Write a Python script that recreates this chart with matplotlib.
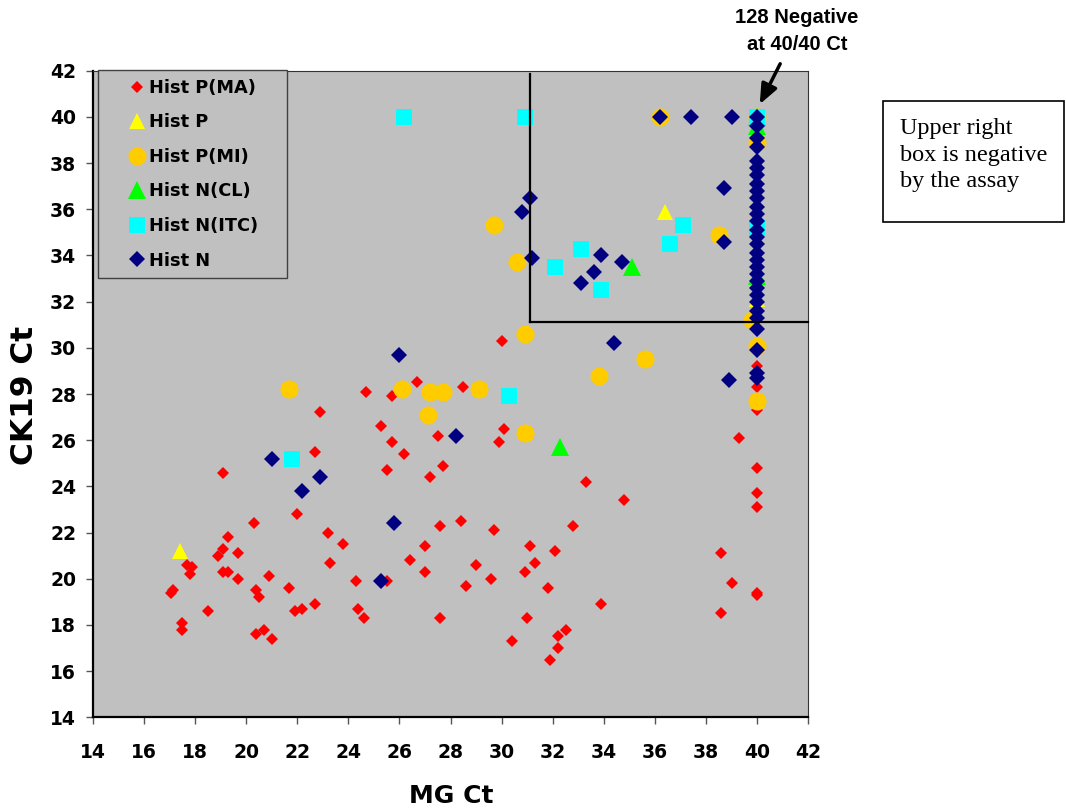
import matplotlib
matplotlib.use("Agg")
import matplotlib.pyplot as plt
from matplotlib.patches import Rectangle

plt.rcParams['font.family'] = ['DejaVu Sans']

# ---- data: MG Ct (x) vs CK19 Ct (y) by histology group ----
pma_x = [24.7, 25.7, 26.7, 22.9, 25.3, 25.7, 26.2, 25.5, 22.7, 19.1,
         22.0, 20.3, 23.2, 23.8, 19.3, 19.1, 18.9, 19.7, 17.7, 17.9,
         17.8, 23.3, 19.1, 19.3, 19.7, 20.9, 24.3, 25.5, 26.4, 17.15,
         17.05, 20.4, 20.5, 21.7, 18.5, 21.9, 22.2, 22.7, 24.4, 24.6,
         17.5, 17.5, 20.4, 20.7, 21.0, 30.0, 28.5, 27.5, 30.1, 29.9,
         27.7, 27.2, 33.3, 34.8, 27.6, 28.4, 29.7, 32.8, 27.0, 27.0,
         29.0, 29.6, 28.6, 31.1, 31.3, 30.9, 32.1, 31.8, 33.9, 27.6,
         31.0, 30.4, 32.5, 32.2, 32.2, 31.9, 39.3, 40.0, 40.0, 40.0,
         38.6, 39.0, 40.0, 40.0, 38.6, 40.0, 40.0, 40.0]
pma_y = [28.1, 27.9, 28.5, 27.2, 26.6, 25.9, 25.4, 24.7, 25.5, 24.6,
         22.8, 22.4, 22.0, 21.5, 21.8, 21.3, 21.0, 21.1, 20.6, 20.5,
         20.2, 20.7, 20.3, 20.3, 20.0, 20.1, 19.9, 19.9, 20.8, 19.5,
         19.4, 19.5, 19.2, 19.6, 18.6, 18.6, 18.7, 18.9, 18.7, 18.3,
         18.1, 17.8, 17.6, 17.8, 17.4, 30.3, 28.3, 26.2, 26.5, 25.9,
         24.9, 24.4, 24.2, 23.4, 22.3, 22.5, 22.1, 22.3, 21.4, 20.3,
         20.6, 20.0, 19.7, 21.4, 20.7, 20.3, 21.2, 19.6, 18.9, 18.3,
         18.3, 17.3, 17.8, 17.5, 17.0, 16.5, 26.1, 24.8, 23.7, 23.1,
         21.1, 19.8, 19.3, 19.4, 18.5, 27.3, 28.3, 29.2]

p_x = [17.4, 36.4, 40.0]
p_y = [21.2, 35.9, 32.1]

pmi_x = [21.7, 26.1, 27.2, 27.7, 29.1, 27.1, 30.9, 30.9, 35.6, 33.8,
         29.7, 30.6, 38.5, 36.2, 40.0, 40.0, 39.8, 40.0, 40.0]
pmi_y = [28.2, 28.2, 28.1, 28.1, 28.2, 27.1, 26.3, 30.6, 29.5, 28.8,
         35.3, 33.7, 34.9, 40.0, 40.0, 38.9, 31.2, 30.1, 27.7]

ncl_x = [32.3, 35.1, 40.0, 40.0, 40.0]
ncl_y = [25.7, 33.5, 40.0, 39.6, 33.1]

nitc_x = [21.8, 26.2, 30.9, 30.3, 37.1, 36.6, 33.1, 32.1, 33.9, 40.0, 40.0]
nitc_y = [25.2, 40.0, 40.0, 27.9, 35.3, 34.5, 34.3, 33.5, 32.5, 40.0, 35.2]

n_x = [26.0, 21.0, 22.9, 22.2, 25.8, 25.3, 34.4, 28.2, 38.9, 36.2,
       37.4, 39.0, 38.7, 31.1, 30.8, 38.7, 33.9, 34.7, 31.2, 33.6,
       33.1,
       40.0, 40.0, 40.0, 40.0, 40.0, 40.0, 40.0, 40.0, 40.0, 40.0,
       40.0, 40.0, 40.0, 40.0, 40.0, 40.0, 40.0, 40.0, 40.0, 40.0,
       40.0, 40.0, 40.0, 40.0, 40.0, 40.0, 40.0, 40.0, 40.0, 40.0]
n_y = [29.7, 25.2, 24.4, 23.8, 22.4, 19.9, 30.2, 26.2, 28.6, 40.0,
       40.0, 40.0, 36.9, 36.5, 35.9, 34.6, 34.0, 33.7, 33.9, 33.3,
       32.8,
       40.0, 39.6, 39.1, 38.7, 38.1, 37.8, 37.5, 37.1, 36.8, 36.5,
       36.1, 35.8, 35.5, 35.1, 34.8, 34.5, 34.1, 33.8, 33.5, 33.2,
       32.9, 32.6, 32.3, 32.0, 31.6, 31.3, 30.8, 29.9, 28.9, 28.7]

# assay-negative region boundary (upper right box)
cut_mg = 31.1
cut_ck = 31.1
box_top = 41.85
box_right = 42.0

ticks = list(range(14, 43, 2))

fig = plt.figure(figsize=(10.66, 8.10), dpi=100)
ax = fig.add_axes([0.08696, 0.11444, 0.6713, 0.79828])
ax.set_facecolor('#C0C0C0')

series = [
    (pma_x, pma_y, 'Hist P(MA)', 'D', '#FF0000', 6.5),
    (p_x, p_y, 'Hist P', '^', '#FFFF00', 12),
    (pmi_x, pmi_y, 'Hist P(MI)', 'o', '#FFCC00', 13),
    (ncl_x, ncl_y, 'Hist N(CL)', '^', '#00FF00', 13),
    (nitc_x, nitc_y, 'Hist N(ITC)', 's', '#00FFFF', 11.5),
    (n_x, n_y, 'Hist N', 'D', '#000080', 8.5),
]
for xs, ys, lab, mk, col, ms in series:
    ax.plot(xs, ys, linestyle='none', marker=mk, color=col, markersize=ms,
            markeredgewidth=0, label=lab, clip_on=False)

# boundary of the negative box
ax.plot([cut_mg, cut_mg], [cut_ck, box_top], color='black', lw=1.6, zorder=5)
ax.plot([cut_mg, box_right], [cut_ck, cut_ck], color='black', lw=1.6, zorder=5,
        clip_on=False)

ax.set_xlim(14, 42)
ax.set_ylim(14, 42)
ax.set_xticks(ticks)
ax.set_yticks(ticks)
ax.tick_params(axis='both', direction='out', length=4.8, width=1,
               color='#555555', labelsize=13.5)
ax.tick_params(axis='x', pad=13.5)
ax.tick_params(axis='y', pad=7)
for lbl in ax.get_xticklabels() + ax.get_yticklabels():
    lbl.set_fontweight('bold')

for side in ('left', 'bottom'):
    ax.spines[side].set_linewidth(1.6)
    ax.spines[side].set_color('black')
for side in ('top', 'right'):
    ax.spines[side].set_linewidth(0.8)
    ax.spines[side].set_color('#333333')

fig.text(451 / 1066, 1 - 803 / 810, 'MG Ct', ha='center', va='baseline',
         fontsize=18, fontweight='bold')
fig.text(33 / 1066, 1 - 395 / 810, 'CK19 Ct', ha='center', va='baseline',
         rotation=90, rotation_mode='anchor', fontsize=22.5, fontweight='bold')

leg = ax.legend(loc='upper left',
                bbox_to_anchor=(98 / 1066, 1 - 279 / 810, 189 / 1066, 209 / 810),
                bbox_transform=fig.transFigure, mode='expand',
                borderaxespad=0, borderpad=0.5, handlelength=3.35,
                handletextpad=-0.97, labelspacing=0.93, numpoints=1,
                fancybox=False, framealpha=1, facecolor='#C0C0C0',
                edgecolor='#404040', prop={'weight': 'bold', 'size': 12.8})
leg.get_frame().set_linewidth(1.0)

# callout for the stacked negatives at 40/40
fig.text(797 / 1066, 1 - 31 / 810, '128 Negative\nat 40/40 Ct', ha='center',
         va='center', fontsize=14.5, fontweight='bold', linespacing=1.5,
         family=['Liberation Sans', 'DejaVu Sans'])
ax.annotate('', xy=(40.1, 40.55), xytext=(40.9, 42.3),
            xycoords='data', textcoords='data', annotation_clip=False,
            arrowprops=dict(arrowstyle='-|>,head_length=0.6,head_width=0.25',
                            mutation_scale=20, lw=2.5, color='black',
                            shrinkA=0, shrinkB=0))

# note box on the right
fig.patches.append(Rectangle((883 / 1066, 1 - 222 / 810), 181 / 1066, 121 / 810,
                             transform=fig.transFigure, fill=False,
                             edgecolor='black', lw=1.2))
fig.text(900 / 1066, 1 - 155 / 810, 'Upper right\nbox is negative\nby the assay',
         ha='left', va='center', fontsize=17.5, linespacing=1.33,
         family=['Liberation Serif', 'DejaVu Serif'])

fig.savefig('out.png', dpi=100)
